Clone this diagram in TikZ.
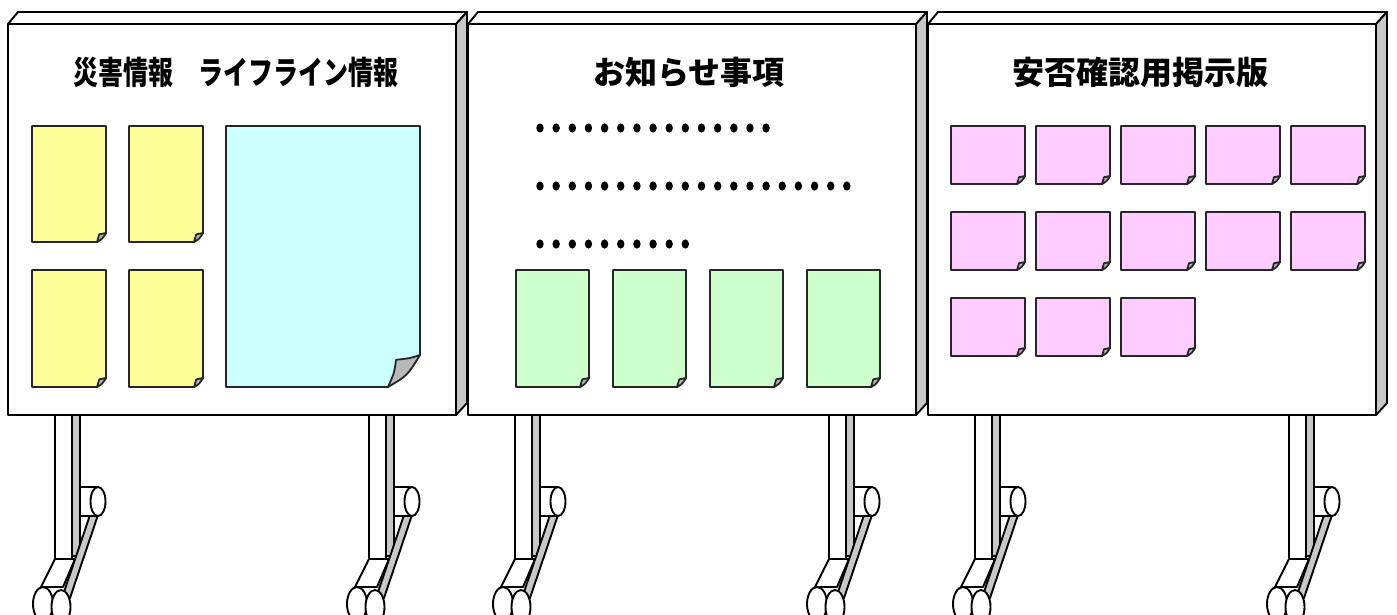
\documentclass[tikz,border=0pt]{standalone}
\usepackage{fontspec}
\newfontfamily\jpfont{Noto Sans CJK JP}
\definecolor{noteyellow}{HTML}{FFFF99}
\definecolor{noteblue}{HTML}{CCFFFF}
\definecolor{notegreen}{HTML}{CCFFCC}
\definecolor{notepink}{HTML}{FFCCFF}
\definecolor{sidegray}{HTML}{C8C8C8}
\definecolor{curlgray}{HTML}{B8B8B8}

% board: front face with a thin top face and a grey right side
\newcommand{\boardpanel}[1]{%
  \filldraw[pen, fill=white] (#1,24) -- (#1+10,12) -- (#1+459,12) -- (#1+448,24) -- cycle;
  \filldraw[pen, fill=sidegray] (#1+448,24) -- (#1+459,12) -- (#1+459,403) -- (#1+448,415) -- cycle;
  \filldraw[pen, fill=white] (#1,24) rectangle (#1+448,415);
}

% sheet of paper with a curled lower right corner: x1,y1,x2,y2,colour,curl size
\newcommand{\sheet}[6]{%
  \filldraw[notepen, fill=#5] (#1,#2) -- (#3,#2) -- (#3,#4-#6) -- (#3-#6,#4) -- (#1,#4) -- cycle;
  \filldraw[notepen, fill=curlgray] (#3,#4-#6)
    .. controls (#3-0.3*#6,#4-0.9*#6) .. (#3-0.75*#6,#4-0.85*#6)
    .. controls (#3-0.8*#6,#4-0.45*#6) .. (#3-#6,#4)
    .. controls (#3-0.4*#6,#4-0.35*#6) .. (#3,#4-#6) -- cycle;
}

% leg with casters, #1 = left edge of the upright
\newcommand{\standleg}[1]{%
  \filldraw[pen, fill=sidegray] (#1+17,415) rectangle (#1+25,556);
  \filldraw[pen, fill=white] (#1,559) -- (#1+20,559) -- (#1+8,587) -- (#1-14,587) -- cycle;
  \filldraw[pen, fill=white] (#1-12,604) ellipse (10 and 17);
  \filldraw[pen, fill=sidegray] (#1+35,515) -- (#1+43,515) -- (#1+15,598) -- (#1+7,598) -- cycle;
  \filldraw[pen, fill=white] (#1,415) rectangle (#1+17,559);
  \filldraw[pen, fill=white] (#1+25,487) rectangle (#1+43,516);
  \draw[pen] (#1+25,487) -- (#1+25,516);
  \filldraw[pen, fill=white] (#1+43,501.5) ellipse (7.5 and 14.5);
  \filldraw[pen, fill=white] (#1+6,607) ellipse (9.5 and 17);
}

\newcommand{\dotrow}[2]{%
  \foreach \i in {1,...,#2} \fill (540+16.15*\i-16.15,#1) ellipse (3.7 and 4.6);
}

\begin{document}
\begin{tikzpicture}[x=1pt, y=-1pt, line join=round,
  pen/.style={draw=black, line width=1.9pt},
  notepen/.style={draw=black!85, line width=1.8pt},
  title/.style={font=\jpfont\bfseries\fontsize{32}{32}\selectfont, inner sep=0pt, anchor=center}]
\useasboundingbox (0,0) rectangle (1397,614);
\clip (0,0) rectangle (1397,614);

% legs and casters
\foreach \lx in {55,369,515,829,975,1289} {\standleg{\lx}}

% the three boards
\boardpanel{8}
\boardpanel{468}
\boardpanel{928}

% titles
\node[title] (t1) at (236,72) {\scalebox{0.78}[1]{災害情報　ライフライン情報}};
\node[title] (t2) at (689,72) {お知らせ事項};
\node[title] (t3) at (1140,72) {安否確認用掲示版};

% disaster and lifeline sheets
\sheet{32}{126}{106}{242}{noteyellow}{9}
\sheet{129}{126}{203}{242}{noteyellow}{9}
\sheet{32}{270}{106}{387}{noteyellow}{9}
\sheet{129}{270}{203}{387}{noteyellow}{9}
\sheet{226}{126}{420}{387}{noteblue}{32}

% notices
\dotrow{128}{15}
\dotrow{186}{20}
\dotrow{244}{10}
\foreach \gx in {516,613,710,807} {\sheet{\gx}{270}{\gx+73}{387}{notegreen}{9}}

% safety confirmation cards
\foreach \py in {126,212,298} {
  \foreach \px in {951,1036,1121,1206,1291} {
    \pgfmathtruncatemacro{\skipcard}{(\py==298 && \px>1130) ? 1 : 0}
    \ifnum\skipcard=0 \sheet{\px}{\py}{\px+74}{\py+58}{notepink}{8}\fi
  }
}
\end{tikzpicture}
\end{document}
